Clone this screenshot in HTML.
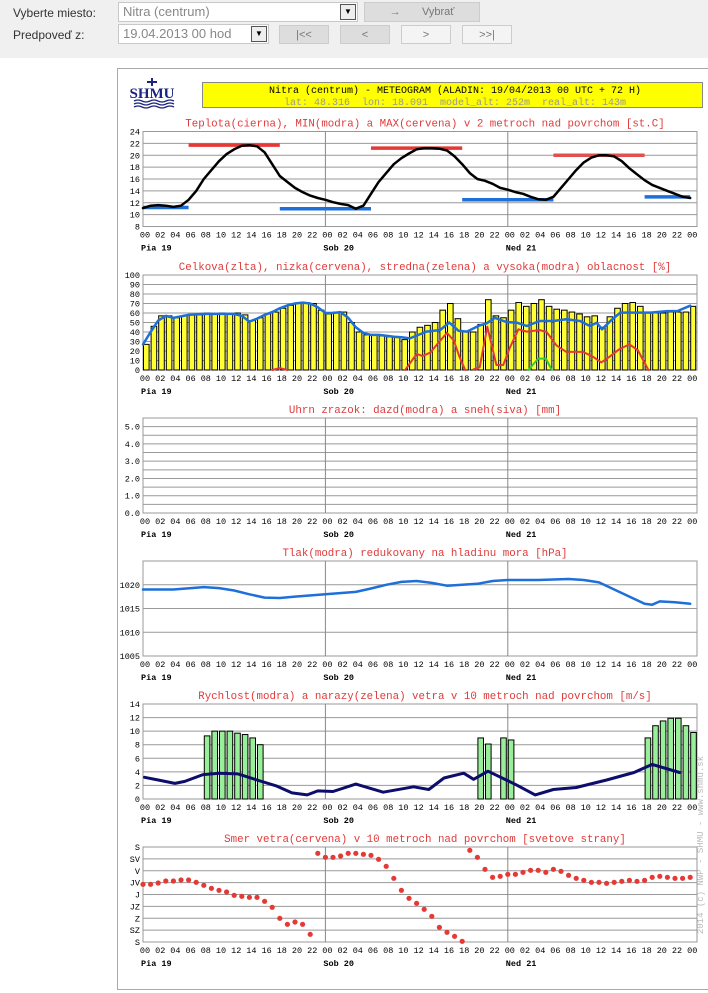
<!DOCTYPE html>
<html><head><meta charset="utf-8"><style>
html,body{margin:0;padding:0;width:708px;height:993px;overflow:hidden;background:#fff;font-family:"Liberation Sans",sans-serif}
#top{position:absolute;left:0;top:0;width:708px;height:58px;background:#f0f0f0}
.lab{position:absolute;font-size:12px;color:#333}
.sel{position:absolute;background:#fff;border:1px solid #c8c8c8;font-size:13px;color:#888;padding-left:4px;box-sizing:border-box;line-height:18px}
.dd{position:absolute;right:1px;top:1px;width:14px;height:14px;border:1px solid #555;background:#eee;font-size:8px;line-height:14px;text-align:center;color:#000}
.btn{position:absolute;border:1px solid #ccc;background:#ddd;font-size:11px;color:#777;text-align:center;line-height:18px;box-sizing:border-box}
svg{position:absolute;left:0;top:0}
</style></head><body>
<div id="top">
<div class="lab" style="left:13px;top:6px">Vyberte miesto:</div>
<div class="lab" style="left:13px;top:28px">Predpoveď z:</div>
<div class="sel" style="left:118px;top:2px;width:240px;height:20px">Nitra (centrum)<div class="dd">▼</div></div>
<div class="btn" style="left:364px;top:2px;width:116px;height:20px">→ &nbsp;&nbsp;&nbsp;&nbsp;&nbsp;&nbsp;Vybrať</div>
<div class="sel" style="left:118px;top:24px;width:151px;height:20px">19.04.2013 00 hod<div class="dd">▼</div></div>
<div class="btn" style="left:279px;top:25px;width:50px;height:19px">|&lt;&lt;</div>
<div class="btn" style="left:340px;top:25px;width:50px;height:19px">&lt;</div>
<div class="btn" style="left:401px;top:25px;width:50px;height:19px;background:#f4f4f4">&gt;</div>
<div class="btn" style="left:462px;top:25px;width:50px;height:19px;background:#f4f4f4">&gt;&gt;|</div>
</div>
<svg id="s" width="708" height="993" xmlns="http://www.w3.org/2000/svg"></svg>
<script>
const S=document.getElementById('s');let o='';
const X=h=>143+h*7.6,H=95,F='font-family="Liberation Mono,monospace"';
o+='<rect x="117.5" y="68.5" width="600" height="921" fill="#fff" stroke="#aaa"/>';
o+='<text x="152" y="98" font-family="Liberation Serif,serif" font-weight="bold" font-size="15" fill="#1a237e" text-anchor="middle">SHMU</text>';
o+='<path d="M152 78v8M147 82h10" stroke="#1a237e" stroke-width="2"/>';
for(let i=0;i<3;i++)o+=`<path d="M134 ${101+i*3}q4 -2 8 0t8 0t8 0t8 0t8 0" stroke="#1a237e" fill="none" stroke-width="1.3"/>`;
o+='<rect x="202.5" y="82.5" width="500" height="25" fill="#ffff00" stroke="#888"/>';
o+=`<text x="455" y="93" ${F} font-size="10" text-anchor="middle" fill="#000" xml:space="preserve">Nitra (centrum) - METEOGRAM (ALADIN: 19/04/2013 00 UTC + 72 H)</text>`;
o+=`<text x="455" y="105" ${F} font-size="10" text-anchor="middle" fill="#999" xml:space="preserve">lat: 48.316  lon: 18.091  model_alt: 252m  real_alt: 143m</text>`;
o+=`<text x="703" y="845" ${F} font-size="9" fill="#bbb" transform="rotate(-90 703 845)" text-anchor="middle" xml:space="preserve">2014 (c) NWP - SHMU - www.shmu.sk</text>`;
function chart(top,title,vmin,vmax,grid,labels){
 const Y=v=>top+(vmax-v)/(vmax-vmin)*H;
 o+=`<text x="425" y="${top-5}" ${F} font-size="10.8" fill="#e03a3a" text-anchor="middle">${title}</text>`;
 o+=`<rect x="143" y="${top}" width="554" height="${H}" fill="#fff" stroke="#999"/>`;
 for(const g of grid)o+=`<line x1="143" x2="697" y1="${Y(g)}" y2="${Y(g)}" stroke="#999" stroke-width="1"/>`;
 for(const d of [24,48])o+=`<line x1="${X(d)}" x2="${X(d)}" y1="${top}" y2="${top+H}" stroke="#888"/>`;
 for(const [v,t] of labels)o+=`<text x="140" y="${Y(v)+3}" ${F} font-size="8.5" text-anchor="end">${t}</text>`;
 for(let h=0;h<=72;h+=2)o+=`<text x="${X(h)+2}" y="${top+H+11}" ${F} font-size="8.5" text-anchor="middle">${String(h%24).padStart(2,'0')}</text>`;
 [['Pia 19',0],['Sob 20',24],['Ned 21',48]].forEach(([t,h])=>o+=`<text x="${X(h)-2}" y="${top+H+24}" ${F} font-size="8.5" font-weight="bold">${t}</text>`);
 return Y;
}
const rng=(a,b,s)=>{let r=[];for(let v=a;v<=b+1e-9;v+=s)r.push(+v.toFixed(2));return r};
const pl=(pts,Y,c,w)=>o+=`<polyline points="${pts.map(p=>X(p[0]).toFixed(1)+','+Y(p[1]).toFixed(1)).join(' ')}" fill="none" stroke="${c}" stroke-width="${w}" stroke-linejoin="round" stroke-linecap="round"/>`;
const seg=(a,b,v,Y,c)=>o+=`<line x1="${X(a)}" x2="${X(b)}" y1="${Y(v)}" y2="${Y(v)}" stroke="${c}" stroke-width="3.5"/>`;
let Y=chart(131.5,'Teplota(cierna), MIN(modra) a MAX(cervena) v 2 metroch nad povrchom [st.C]',8,24,rng(8,24,2),rng(8,24,2).map(v=>[v,v]));
seg(6,18,21.7,Y,'#e53935');seg(30,42,21.2,Y,'#e53935');seg(54,66,20,Y,'#e05050');
seg(0,6,11.2,Y,'#1e6fd9');seg(18,30,11.0,Y,'#1e6fd9');seg(42,54,12.5,Y,'#1e6fd9');seg(66,72,13,Y,'#1e6fd9');
const T=[11.1,11.5,11.6,11.5,11.3,11.5,12.5,14,16,17.5,19,20.2,21,21.6,21.7,21.5,20.5,18.5,16.5,15.5,14.5,13.8,13.2,12.8,12.5,12.1,11.8,11.6,11,11.5,13.5,15.5,17,18.5,19.5,20.3,21,21.2,21.2,21.1,20.8,19.8,18.5,17,16,15.7,15.2,14.5,14.2,13.8,13.5,13,12.6,12.5,13,14.5,16,17.5,18.8,19.6,20,20,19.8,19,17.8,16.8,15.8,15,14.5,14,13.5,13,12.8];
pl(T.map((v,i)=>[i,v]),Y,'#000',2.5);
Y=chart(275,'Celkova(zlta), nizka(cervena), stredna(zelena) a vysoka(modra) oblacnost [%]',0,100,rng(0,100,10),rng(0,100,10).map(v=>[v,v]));
const C=[27,46,57,57,55,57,58,58,60,59,60,59,60,58,52,55,59,61,65,68,70,71,70,63,59,61,61,50,40,37,37,36,35,35,32,40,45,47,50,63,70,54,40,40,48,74,57,55,63,71,67,70,74,67,64,63,61,59,56,57,45,56,65,70,71,67,60,60,60,61,61,61,67];
C.forEach((v,i)=>{const w=i==72?5:5.6;o+=`<rect x="${X(i)+0.5}" y="${Y(v)}" width="${w}" height="${Y(0)-Y(v)}" fill="#ffff33" stroke="#000" stroke-width="1"/>`});
pl([[0,27],[1,40],[2,52],[3,57],[4,55],[6,58],[8,59],[10,59],[12,59],[13,57],[14,51],[15,54],[16,58],[17,61],[18,65],[19,68],[20,70],[21,71],[22,70],[23,66],[24,60],[25,60],[26,61],[27,55],[28,45],[29,39],[30,37],[31,37],[32,36],[33,35],[34,34.4],[35.1,33.3],[37.3,40.4],[39.1,42.1],[40.3,50],[41.5,41.4],[42.6,40.4],[44.3,47],[45.2,49],[46.3,55],[47.8,50.5],[49.2,49.8],[50.5,46.3],[52.2,51.6],[54,51.6],[55.7,53.5],[57.5,51.6],[58.8,46.3],[59.7,49.8],[60.4,42.8],[61.5,51.6],[62.8,60.4],[64.6,60.4],[66.8,60.4],[69,62],[70.3,62],[72,67.7]],Y,'#1e6fd9',2.5);
pl([[17,0],[18,2],[19,0]],Y,'#e53935',2);
pl([[34.5,0],[36,17],[36.8,14.7],[37.8,18.3],[38.8,28],[40,39],[40.9,31],[41.6,14.6],[42.4,0]],Y,'#e53935',2);
pl([[43.5,0.7],[44.3,2.8],[45.3,45.6],[46.5,5.3],[47.4,5.3],[48.3,24],[49.4,42.8],[50.5,40.4],[52.2,42],[53.1,40],[54.4,26],[55.7,19],[57.9,19],[59.2,14],[60.3,8],[61.4,14],[62.7,22],[64,27],[65.1,21],[66.5,0]],Y,'#e53935',2);
pl([[50.7,0],[52,12],[53,12],[53.8,0]],Y,'#33cc33',2);
Y=chart(418,'Uhrn zrazok: dazd(modra) a sneh(siva) [mm]',0,5.5,rng(0,5.5,0.5),rng(0,5,1).map(v=>[v,v.toFixed(1)]));
Y=chart(561,'Tlak(modra) redukovany na hladinu mora [hPa]',1005,1025,[1010,1015,1020],[[1005,1005],[1010,1010],[1015,1015],[1020,1020]]);
pl([[0,1019],[4,1019],[8,1019.5],[10,1019.3],[12,1018.8],[14,1018],[16,1017.3],[18,1017.2],[20,1017.5],[24,1018],[28,1018.5],[30,1019.2],[32,1020],[34,1020.6],[36,1020.8],[38,1020.4],[40,1019.8],[42,1020],[44,1020.2],[46,1020.8],[48,1021],[52,1021],[56,1021.2],[58,1021],[60,1020.5],[62,1019],[64,1017.5],[66,1016],[67,1015.8],[68,1016.5],[70,1016.3],[72,1016]],Y,'#1e6fd9',2.5);
Y=chart(704,'Rychlost(modra) a narazy(zelena) vetra v 10 metroch nad povrchom [m/s]',0,14,rng(0,14,2),rng(0,14,2).map(v=>[v,v]));
const G={8:9.3,9:10,10:10,11:10,12:9.7,13:9.5,14:9,15:8,44:9,45:8.1,47:9,48:8.7,66:9,67:10.8,68:11.5,69:11.9,70:11.9,71:10.8,72:9.8};
for(const h in G){const v=G[h];o+=`<rect x="${X(+h)+0.5}" y="${Y(v)}" width="5.6" height="${Y(0)-Y(v)}" fill="#99ee99" stroke="#000"/>`}
pl([[0.2,3.2],[2,2.8],[4.2,2.3],[5.5,2.6],[7.9,3.6],[10,3.8],[12.5,3.7],[15,2.8],[17.6,1.9],[19.6,0.9],[21.6,0.6],[23,1.2],[25,1.1],[28,2.2],[31.6,1.0],[35.6,1.8],[37.6,1.4],[39.6,3.1],[42.2,3.8],[43.5,2.9],[45.4,4.1],[49.1,2.1],[51.6,0.6],[54,1.4],[57,1.7],[61,2.8],[64.6,3.9],[67,5.1],[70.6,3.9]],Y,'#0d0d6b',3);
Y=chart(847,'Smer vetra(cervena) v 10 metroch nad povrchom [svetove strany]',0,8,rng(0,8,1),['S','SZ','Z','JZ','J','JV','V','SV','S'].map((t,i)=>[i,t]));
const D=[583,583,579,573,573,570,570,577,586,595,601,606,616,619,622,622,634,652,685,703,696,703,733,490,502,502,498,490,490,493,496,508,529,565,601,625,640,658,679,712,727,739,754,481,502,538,562,559,553,553,547,541,541,547,538,544,556,565,571,577,577,580,577,574,571,574,571,562,559,562,565,565,562];
D.forEach((py,i)=>{const y=690+py/3;o+=`<circle cx="${X(i)}" cy="${y}" r="2.6" fill="#e53935"/>`});
S.innerHTML=o;
</script>
</body></html>
